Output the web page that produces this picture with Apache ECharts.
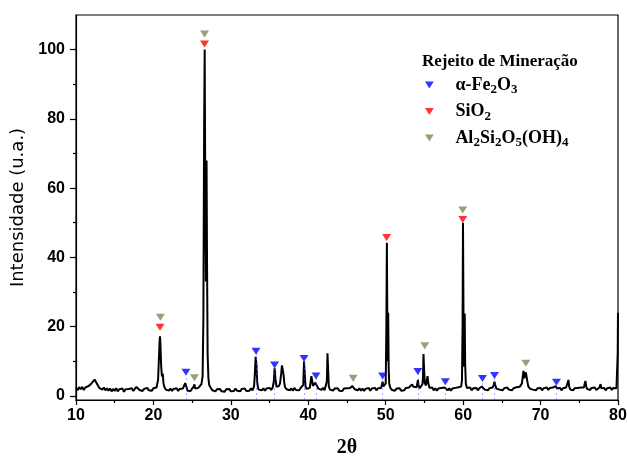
<!DOCTYPE html>
<html>
<head>
<meta charset="utf-8">
<title>Rejeito de Mineração - DRX</title>
<script src="https://cdn.jsdelivr.net/npm/echarts@6.0.0/dist/echarts.min.js"></script>
<style>
    html, body {margin: 0; padding: 0; background: #fff;}
    #xrd {width: 627px; height: 457px;}
</style>
</head>
<body>
<div id="xrd"></div>
<script>
// difratograma: [2θ, intensidade]
var pattern = [
    [10.0,2.3],[10.2,1.6],[10.4,2.5],[10.6,1.9],[10.8,2.6],[11.0,1.7],[11.2,2.4],[11.4,2.0],[11.6,2.8],[11.8,2.6],
    [12.0,3.6],[12.2,3.4],[12.4,4.7],[12.6,3.9],[12.8,3.1],[13.0,2.3],[13.2,2.8],[13.4,1.8],[13.6,2.4],[13.8,1.6],
    [14.0,2.2],[14.2,1.5],[14.4,2.1],[14.6,1.3],[14.8,2.0],[15.0,1.4],[15.2,2.2],[15.4,1.3],[15.6,1.9],[15.8,1.5],
    [16.0,2.1],[16.2,1.2],[16.4,1.9],[16.6,1.4],[16.8,2.0],[17.0,1.5],[17.2,2.2],[17.4,1.4],[17.6,2.0],[17.8,2.6],
    [18.0,2.9],[18.2,1.7],[18.4,2.1],[18.6,1.4],[18.8,2.0],[19.0,1.5],[19.2,2.3],[19.4,1.6],[19.6,2.1],[19.8,1.5],
    [20.0,2.2],[20.2,1.7],[20.4,2.4],[20.5,2.9],[20.6,4.6],[20.7,10.2],[20.8,15.8],[20.85,17.2],[20.9,15.1],[21.0,8.6],
    [21.1,5.6],[21.2,6.4],[21.3,3.6],[21.4,2.6],[21.6,1.8],[21.8,2.3],[22.0,1.5],[22.2,2.1],[22.4,1.4],[22.6,2.0],
    [22.8,1.5],[23.0,2.2],[23.2,1.4],[23.4,2.0],[23.6,1.6],[23.8,2.1],[24.0,2.6],[24.1,3.7],[24.18,4.2],[24.26,2.6],
    [24.4,1.5],[24.6,2.0],[24.8,1.4],[25.0,2.1],[25.2,2.7],[25.3,3.3],[25.4,2.1],[25.6,1.7],[25.8,2.3],[26.0,2.6],
    [26.2,3.4],[26.35,5.6],[26.45,22],[26.55,78],[26.62,100],[26.7,58],[26.78,33],[26.86,68],[26.93,36],[27.0,12],
    [27.1,5.2],[27.2,3.1],[27.4,2.3],[27.6,1.6],[27.8,2.1],[28.0,1.3],[28.2,1.9],[28.4,1.4],[28.6,2.0],[28.8,1.3],
    [29.0,1.8],[29.2,1.2],[29.4,1.9],[29.6,1.4],[29.8,2.0],[30.0,1.3],[30.2,1.8],[30.4,1.4],[30.6,2.1],[30.8,1.5],
    [31.0,1.9],[31.2,1.3],[31.4,2.0],[31.6,1.5],[31.8,2.1],[32.0,1.4],[32.2,1.9],[32.4,1.5],[32.6,2.2],[32.8,1.6],
    [33.0,2.8],[33.1,6.4],[33.2,11.3],[33.3,9.2],[33.4,4.1],[33.5,2.4],[33.6,1.8],[33.8,2.3],[34.0,1.6],[34.2,2.2],
    [34.4,1.5],[34.6,2.1],[34.8,1.6],[35.0,2.3],[35.2,1.7],[35.4,2.4],[35.55,4.2],[35.65,8.0],[35.75,5.1],[35.9,2.6],
    [36.0,2.2],[36.2,2.8],[36.35,3.6],[36.5,6.4],[36.6,8.8],[36.7,9.2],[36.8,6.2],[36.9,3.7],[37.0,2.5],[37.2,1.9],
    [37.4,2.4],[37.6,1.6],[37.8,2.2],[38.0,1.5],[38.2,2.3],[38.4,1.7],[38.6,2.1],[38.8,1.6],[39.0,2.2],[39.2,1.8],
    [39.35,3.2],[39.45,9.9],[39.55,6.3],[39.65,2.6],[39.8,2.0],[40.0,2.5],[40.2,2.3],[40.3,4.1],[40.4,5.7],[40.5,4.4],
    [40.6,2.9],[40.8,3.0],[40.9,3.8],[41.0,4.1],[41.1,3.0],[41.3,2.1],[41.5,2.6],[41.7,1.7],[41.9,2.3],[42.1,1.6],
    [42.3,2.0],[42.4,4.2],[42.48,12.3],[42.56,7.6],[42.65,2.7],[42.8,1.8],[43.0,2.3],[43.2,1.5],[43.4,2.1],[43.6,1.6],
    [43.8,2.2],[44.0,1.5],[44.2,2.0],[44.4,1.4],[44.6,2.1],[44.8,1.6],[45.0,2.2],[45.2,1.7],[45.4,2.3],[45.6,2.1],
    [45.7,2.8],[45.8,3.3],[45.9,2.6],[46.0,1.9],[46.2,2.4],[46.4,1.6],[46.6,2.2],[46.8,1.5],[47.0,2.1],[47.2,1.4],
    [47.4,2.0],[47.6,1.6],[47.8,2.3],[48.0,1.5],[48.2,2.1],[48.4,1.7],[48.6,2.3],[48.8,1.6],[49.0,2.2],[49.2,1.8],
    [49.4,2.3],[49.5,3.2],[49.6,4.1],[49.7,2.7],[49.85,2.2],[50.0,3.6],[50.08,19],[50.15,44.2],[50.21,21],[50.27,10],
    [50.32,24],[50.38,8.5],[50.45,3.6],[50.6,2.3],[50.8,1.7],[51.0,2.2],[51.2,1.5],[51.4,2.1],[51.6,1.6],[51.8,2.2],
    [52.0,1.5],[52.2,2.0],[52.4,1.6],[52.6,2.3],[52.8,1.8],[53.0,2.4],[53.2,2.0],[53.4,3.3],[53.6,2.6],[53.8,2.2],
    [54.0,2.5],[54.1,3.9],[54.16,4.6],[54.25,2.9],[54.4,2.2],[54.6,2.7],[54.75,3.4],[54.82,6.0],[54.88,12.1],[54.96,7.4],
    [55.05,3.6],[55.2,3.0],[55.32,3.3],[55.4,5.7],[55.5,3.7],[55.65,2.3],[55.8,1.8],[56.0,2.4],[56.2,1.6],[56.4,2.2],
    [56.6,1.5],[56.8,2.1],[57.0,1.7],[57.2,2.3],[57.4,1.8],[57.6,2.4],[57.7,2.9],[57.8,2.2],[58.0,1.6],[58.2,2.2],
    [58.4,1.5],[58.6,2.1],[58.8,1.7],[59.0,2.3],[59.2,1.8],[59.4,2.5],[59.6,2.1],[59.75,2.7],[59.85,4.6],[59.93,21],
    [59.98,50],[60.05,22],[60.12,8.4],[60.2,23.8],[60.26,9.2],[60.35,3.4],[60.5,2.3],[60.7,1.8],[60.9,2.4],[61.1,1.6],
    [61.3,2.2],[61.5,1.7],[61.7,2.3],[61.9,1.6],[62.1,2.2],[62.3,2.0],[62.4,2.7],[62.5,3.2],[62.6,2.4],[62.8,1.8],
    [63.0,2.3],[63.2,1.6],[63.4,2.2],[63.6,1.8],[63.8,2.4],[63.95,3.2],[64.05,4.1],[64.15,3.0],[64.3,2.1],[64.5,2.6],
    [64.7,1.8],[64.9,2.3],[65.1,1.6],[65.3,2.2],[65.5,1.7],[65.7,2.4],[65.9,1.8],[66.1,2.3],[66.3,1.6],[66.5,2.2],
    [66.7,1.9],[66.9,2.5],[67.1,2.0],[67.3,2.6],[67.5,2.5],[67.6,3.6],[67.7,5.6],[67.8,7.2],[67.9,5.1],[68.0,5.6],
    [68.1,6.8],[68.2,6.4],[68.3,4.1],[68.4,2.8],[68.6,2.1],[68.8,2.6],[69.0,1.8],[69.2,2.3],[69.4,1.6],[69.6,2.2],
    [69.8,1.7],[70.0,2.3],[70.2,1.6],[70.4,2.2],[70.6,1.8],[70.8,2.4],[71.0,1.7],[71.2,2.3],[71.4,1.8],[71.6,2.4],
    [71.8,2.1],[71.95,2.8],[72.1,2.2],[72.3,1.7],[72.5,2.3],[72.7,1.6],[72.9,2.2],[73.1,1.8],[73.3,2.4],[73.5,2.3],
    [73.6,4.6],[73.7,2.6],[73.85,1.8],[74.0,2.3],[74.2,1.6],[74.4,2.2],[74.6,1.7],[74.8,2.3],[75.0,1.8],[75.2,2.4],
    [75.4,1.9],[75.6,2.4],[75.7,3.5],[75.8,4.3],[75.9,2.7],[76.0,2.0],[76.2,2.5],[76.4,1.7],[76.6,2.3],[76.8,1.8],
    [77.0,2.4],[77.2,1.7],[77.4,2.2],[77.6,2.4],[77.75,3.4],[77.85,2.2],[78.0,1.7],[78.2,2.3],[78.4,1.6],[78.6,2.2],
    [78.8,1.8],[79.0,2.4],[79.2,1.7],[79.4,2.3],[79.6,1.8],[79.8,2.2],[79.9,2.6],[79.96,12],[80.0,24]
];

// marcadores das fases identificadas
var hematite = [[24.2,6.8],[33.25,12.9],[35.65,8.9],[39.45,10.8],[41.0,5.7],[49.6,5.7],[54.15,7.0],[57.7,4.1],[62.5,5.0],[64.05,5.9],[72.05,3.9]];
var quartz = [[20.85,19.8],[26.6,101.6],[50.12,45.7],[59.95,50.9]];
var kaolinite = [[20.9,22.7],[25.3,5.2],[26.6,104.5],[45.8,5.1],[55.05,14.5],[59.95,53.7],[68.1,9.4]];

var yTicks = [0, 20, 40, 60, 80, 100];
var yMinorTicks = [10, 30, 50, 70, 90];
var yMin = -1.2;
var yMax = 110;

var legendText = {
    'hematita': '{n|α-Fe}{s|2}{n|O}{s|3}',
    'quartzo': '{n|SiO}{s|2}',
    'caulinita': '{n|Al}{s|2}{n|Si}{s|2}{n|O}{s|5}{n|(OH)}{s|4}'
};

var downTriangle = 'path://M0,0 L10,0 L5,8 Z';

var myChart = echarts.init(document.getElementById('xrd'));

var axisFont = {
    color: '#000',
    fontFamily: 'Liberation Sans',
    fontWeight: 'bold',
    fontSize: 16
};

option = {
    animation: false,
    backgroundColor: '#fff',
    title: {
        text: 'Rejeito de Mineração',
        left: 422,
        top: 53,
        padding: 0,
        textStyle: {
            color: '#000',
            fontFamily: 'Liberation Serif',
            fontWeight: 'bold',
            fontSize: 17
        }
    },
    legend: {
        orient: 'vertical',
        left: 425,
        top: 76,
        padding: 0,
        itemGap: 6,
        itemWidth: 42,
        itemHeight: 7,
        data: [
            {name: 'hematita', icon: downTriangle},
            {name: 'quartzo', icon: downTriangle},
            {name: 'caulinita', icon: downTriangle}
        ],
        formatter: function (name) {
            return legendText[name];
        },
        textStyle: {
            rich: {
                n: {
                    color: '#000',
                    fontFamily: 'Liberation Serif',
                    fontWeight: 'bold',
                    fontSize: 18,
                    lineHeight: 23,
                    verticalAlign: 'middle'
                },
                s: {
                    color: '#000',
                    fontFamily: 'Liberation Serif',
                    fontWeight: 'bold',
                    fontSize: 13,
                    lineHeight: 13,
                    verticalAlign: 'bottom'
                }
            }
        }
    },
    grid: {
        left: 76,
        right: 9,
        top: 15,
        bottom: 57,
        show: true,
        borderColor: '#000',
        borderWidth: 1.2,
        outerBoundsMode: 'none'
    },
    xAxis: {
        type: 'value',
        min: 10,
        max: 80,
        interval: 10,
        name: '2θ',
        nameLocation: 'middle',
        nameGap: 38,
        nameTextStyle: {
            color: '#000',
            fontFamily: 'Liberation Serif',
            fontWeight: 'bold',
            fontSize: 20
        },
        axisLine: {onZero: false, lineStyle: {color: '#000', width: 1.2}},
        axisTick: {show: true, inside: false, length: 5, lineStyle: {color: '#000', width: 1.2}},
        minorTick: {show: true, splitNumber: 2, length: 3, lineStyle: {color: '#000', width: 1.2}},
        axisLabel: Object.assign({margin: 8}, axisFont),
        splitLine: {show: false},
        minorSplitLine: {show: false}
    },
    yAxis: [
        {
            type: 'value',
            position: 'left',
            min: yMin,
            max: yMax,
            name: 'Intensidade (u.a.)',
            nameLocation: 'middle',
            nameGap: 46,
            nameTextStyle: {
                color: '#000',
                fontFamily: 'DejaVu Sans',
                fontSize: 18
            },
            axisLine: {onZero: false, lineStyle: {color: '#000', width: 1.2}},
            axisTick: {show: true, inside: false, length: 6, customValues: yTicks, lineStyle: {color: '#000', width: 1.2}},
            axisLabel: Object.assign({margin: 11, customValues: yTicks}, axisFont),
            splitLine: {show: false}
        },
        {
            // só para os traços menores
            type: 'value',
            position: 'left',
            min: yMin,
            max: yMax,
            axisLine: {show: false},
            axisTick: {show: true, inside: false, length: 3, customValues: yMinorTicks, lineStyle: {color: '#000', width: 1.2}},
            axisLabel: {show: false, customValues: yMinorTicks},
            splitLine: {show: false}
        }
    ],
    series: [
        {
            name: 'Rejeito',
            type: 'line',
            data: pattern,
            showSymbol: false,
            symbol: 'none',
            lineStyle: {color: '#000', width: 2},
            z: 2
        },
        {
            name: 'hematita',
            type: 'scatter',
            data: hematite,
            symbol: downTriangle,
            symbolSize: [9, 7],
            itemStyle: {color: '#0000ff'},
            z: 4,
            markLine: {
                silent: true,
                symbol: 'none',
                label: {show: false},
                lineStyle: {color: '#4a4aff', type: [2, 3], width: 0.8, opacity: 0.6},
                data: hematite.map(function (p) {
                    return [{coord: [p[0], yMin]}, {coord: [p[0], p[1]]}];
                })
            }
        },
        {
            name: 'quartzo',
            type: 'scatter',
            data: quartz,
            symbol: downTriangle,
            symbolSize: [9, 7],
            itemStyle: {color: '#ff0000'},
            z: 4
        },
        {
            name: 'caulinita',
            type: 'scatter',
            data: kaolinite,
            symbol: downTriangle,
            symbolSize: [9, 7],
            itemStyle: {color: '#7c8a5a'},
            z: 4
        }
    ]
};

myChart.setOption(option);
</script>
</body>
</html>
